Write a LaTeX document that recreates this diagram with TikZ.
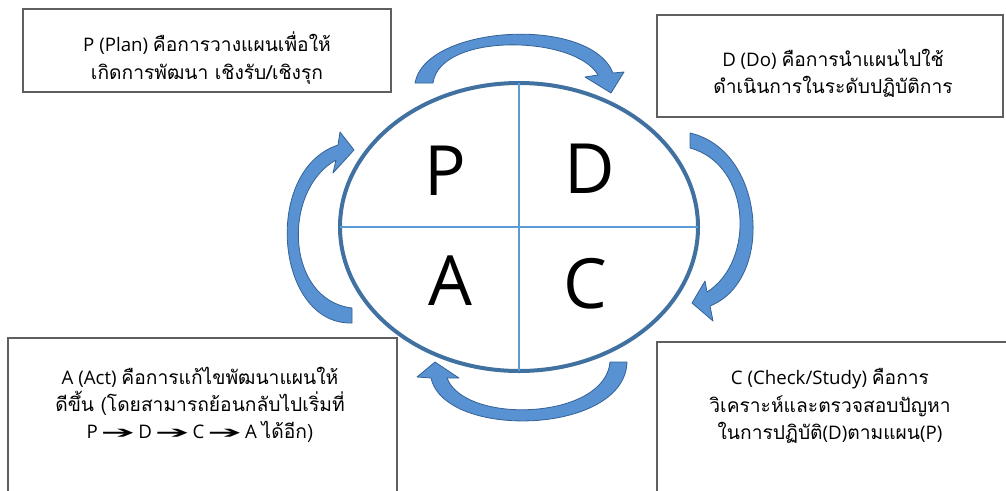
\documentclass[tikz,border=0pt]{standalone}
\usepackage{fontspec}
\setmainfont{Open Sans}
\newfontfamily\thaifont[Script=Thai, Scale=1.03]{Loma}
\newfontfamily\symfont{DejaVu Sans}
\usetikzlibrary{positioning, fit, shapes.geometric}

\definecolor{ovalblue}{RGB}{65,113,160}
\definecolor{lineblue}{RGB}{91,155,213}
\definecolor{arrowfill}{RGB}{88,146,210}
\definecolor{arrowline}{RGB}{52,98,150}
\definecolor{boxgray}{RGB}{95,95,95}

\newcommand{\steparrow}{\,\scalebox{2.2}[0.9]{\symfont ➔}\,}

\begin{document}
\begin{tikzpicture}[x=0.75pt, y=-0.75pt,
  box/.style={draw=boxgray, line width=0.9pt, inner sep=0pt},
  boxtext/.style={align=center, inner sep=0pt, font=\fontsize{14}{20.5}\selectfont},
  bigletter/.style={anchor=base, inner sep=0pt, font=\fontsize{52}{60}\selectfont},
  cyclearrow/.style={fill=arrowfill, draw=arrowline, line width=0.6pt, line join=round}]
\useasboundingbox (0,0) rectangle (1006,490);
\clip (0,0) rectangle (1006,490);

% the four text boxes
\node[box, fit={(23,9) (391,92)}] (planbox) {};
\node[box, fit={(657,15) (1003,117)}] (dobox) {};
\node[box, fit={(8,338) (397,500)}] (actbox) {};
\node[box, fit={(657,342) (1012,500)}] (checkbox) {};

\node[boxtext] (plantext) at (207,58) {P (Plan) {\thaifont คือการวางแผนเพื่อให้}\\{\thaifont เกิดการพัฒนา เชิงรับ/เชิงรุก}};
\node[boxtext] (dotext) at (833,73) {D (Do) {\thaifont คือการนำแผนไปใช้}\\{\thaifont ดำเนินการในระดับปฏิบัติการ}};
\node[boxtext] (acttext) at (200,405) {A (Act) {\thaifont คือการแก้ไขพัฒนาแผนให้}\\{\thaifont ดีขึ้น (โดยสามารถย้อนกลับไปเริ่มที่}\\P\steparrow D\steparrow C\steparrow A {\thaifont ได้อีก)}};
\node[boxtext] (checktext) at (830,406) {C (Check/Study) {\thaifont คือการ}\\{\thaifont วิเคราะห์และตรวจสอบปัญหา}\\{\thaifont ในการปฏิบัติ}(D){\thaifont ตามแผน}(P)};

% the PDCA oval
\node[draw=ovalblue, line width=3pt, ellipse, outer sep=0pt, minimum width=268.5pt, minimum height=216pt] (pdca) at (519,227) {};
\draw[lineblue, line width=1.6pt] (pdca.north) -- (pdca.south);
\draw[lineblue, line width=1.6pt] (pdca.west) -- (pdca.east);

\node[bigletter] (pletter) at (445,195) {P};
\node[bigletter] (dletter) at (590,193) {D};
\node[bigletter] (aletter) at (450,305) {A};
\node[bigletter] (cletter) at (585,308) {C};

% curved arrows round the oval
\draw[cyclearrow] (433,83) -- (415,83) .. controls (425,25) and (590,15) .. (613,73) -- (624,72) -- (611,93) -- (585,77) -- (598,75) .. controls (575,35) and (440,32) .. (433,83) -- cycle;
\draw[cyclearrow] (690,133) .. controls (765,150) and (775,280) .. (710,306) -- (713,321) -- (692,303) -- (705,281) -- (707,292) .. controls (755,262) and (752,165) .. (690,148) -- cycle;
\draw[cyclearrow] (610,362) -- (627,362) .. controls (625,435) and (445,440) .. (431,378) -- (417,377) -- (435,362) -- (459,378) -- (447,378) .. controls (465,425) and (605,420) .. (610,362) -- cycle;
\draw[cyclearrow] (352,308) -- (352,323) .. controls (275,325) and (262,170) .. (338,145) -- (340,132) -- (354,150) -- (333,173) -- (336,160) .. controls (282,190) and (285,300) .. (352,308) -- cycle;
\end{tikzpicture}
\end{document}
